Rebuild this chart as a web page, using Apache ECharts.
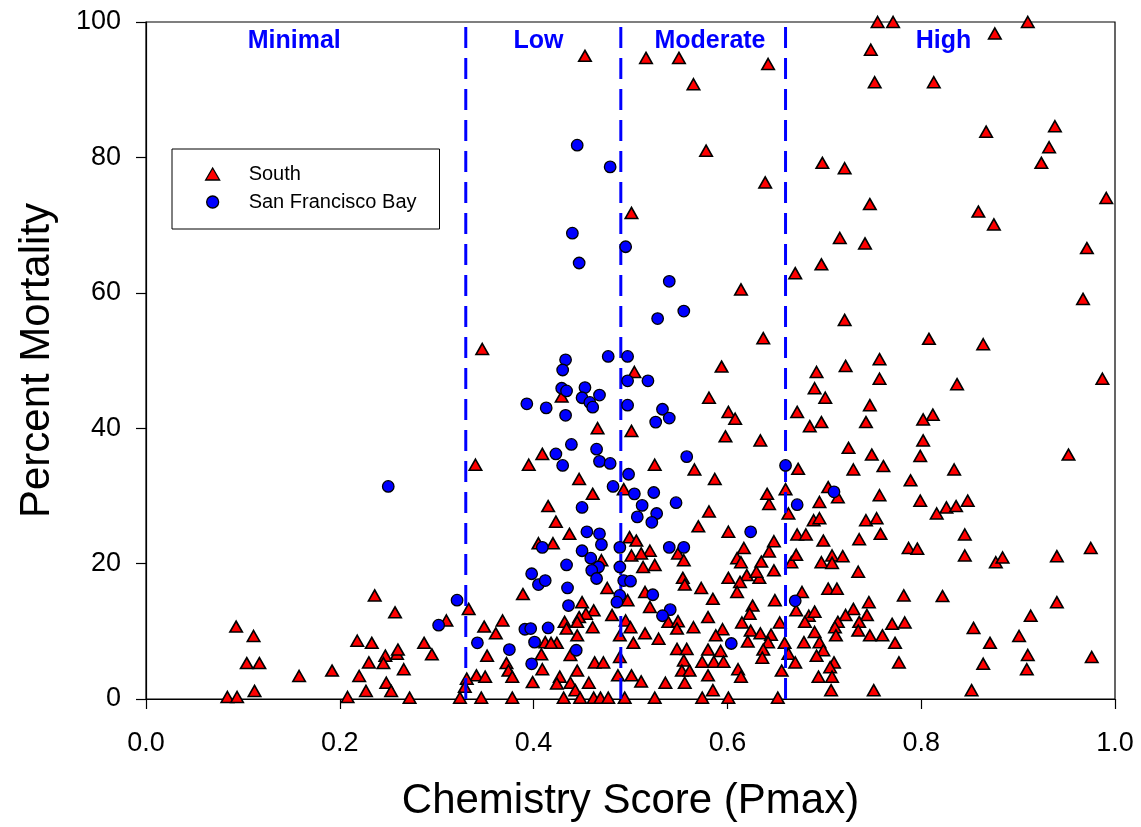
<!DOCTYPE html>
<html><head><meta charset="utf-8">
<script src="https://cdn.jsdelivr.net/npm/echarts@6/dist/echarts.min.js"></script>
<style>html,body{margin:0;padding:0;background:#fff}#c{width:1141px;height:827px}</style>
</head><body><div id="c"></div>
<script>
const seriesNames = ['South', 'San Francisco Bay'];
const xTicks = [0.0, 0.2, 0.4, 0.6, 0.8, 1.0];
const yTicks = [0, 20, 40, 60, 80, 100];
const thresholds = [0.33, 0.49, 0.66];
const zoneLabels = ['Minimal', 'Low', 'Moderate', 'High'];
const zoneLabelX = [0.153, 0.405, 0.582, 0.823];
const zoneLabelY = 97.2;

// South: [Chemistry Score, Percent Mortality]
const southPoints = [
 [0.236,15.3],[0.257,12.8],[0.093,10.7],[0.111,9.3],[0.218,8.6],[0.233,8.3],[0.247,6.4],[0.259,6.7],
 [0.104,5.3],[0.117,5.3],[0.230,5.4],[0.245,5.3],[0.192,4.2],[0.158,3.4],[0.220,3.4],[0.112,1.2],
 [0.227,1.2],[0.248,2.4],[0.253,1.2],[0.084,0.3],[0.094,0.3],[0.208,0.3],
 [0.415,28.5],[0.423,26.2],[0.405,23.0],[0.420,23.0],[0.389,15.5],[0.333,13.3],[0.310,11.6],[0.349,10.7],
 [0.368,11.6],[0.361,9.7],[0.287,8.3],[0.295,6.6],[0.260,7.3],[0.266,4.4],[0.352,6.4],[0.372,5.3],
 [0.374,4.2],[0.378,3.3],[0.341,3.5],[0.350,3.3],[0.331,3.0],[0.329,1.8],[0.272,0.2],[0.324,0.2],
 [0.346,0.2],[0.378,0.2],[0.408,6.6],[0.409,4.4],[0.399,2.5],[0.424,8.3],[0.412,8.4],[0.418,8.3],
 [0.437,24.4],[0.470,20.5],[0.499,23.9],[0.506,23.4],[0.501,21.2],[0.520,21.9],[0.511,21.5],[0.513,19.5],
 [0.525,19.8],[0.549,21.5],[0.555,20.5],[0.581,27.7],[0.570,25.5],[0.601,24.7],[0.554,17.9],[0.556,16.9],
 [0.573,16.4],[0.585,14.8],[0.601,17.9],[0.476,16.4],[0.497,14.6],[0.515,15.8],[0.520,13.6],[0.450,14.3],
 [0.462,13.1],[0.481,12.4],[0.454,12.6],[0.447,12.1],[0.432,11.4],[0.445,11.4],[0.434,10.4],[0.445,9.4],
 [0.461,10.6],[0.438,6.5],[0.495,11.6],[0.500,10.6],[0.489,9.4],[0.503,8.3],[0.515,9.7],[0.529,8.9],
 [0.539,11.4],[0.549,11.5],[0.548,10.4],[0.565,10.6],[0.580,12.1],[0.595,10.3],[0.588,9.4],[0.548,7.4],
 [0.558,7.4],[0.580,7.3],[0.593,7.1],[0.555,5.7],[0.574,5.5],[0.586,5.5],[0.596,5.5],[0.553,4.2],
 [0.561,4.2],[0.580,3.5],[0.463,5.4],[0.472,5.4],[0.445,4.2],[0.489,6.2],[0.487,3.5],[0.501,3.5],
 [0.511,2.6],[0.427,3.3],[0.424,2.3],[0.438,2.4],[0.457,2.4],[0.443,1.3],[0.536,2.4],[0.556,2.4],
 [0.585,1.3],[0.431,0.2],[0.448,0.2],[0.462,0.2],[0.469,0.2],[0.477,0.2],[0.494,0.2],[0.525,0.2],
 [0.574,0.2],[0.601,0.2],
 [0.643,28.8],[0.663,27.4],[0.695,29.1],[0.689,26.4],[0.695,26.7],[0.743,26.4],[0.754,26.7],[0.758,24.4],
 [0.736,23.6],[0.787,22.3],[0.796,22.2],[0.672,24.3],[0.681,24.3],[0.699,23.4],[0.648,23.3],[0.617,22.3],
 [0.643,21.8],[0.610,20.8],[0.614,20.2],[0.635,20.3],[0.666,20.2],[0.671,21.3],[0.697,20.2],[0.708,21.2],
 [0.708,20.1],[0.719,21.1],[0.620,18.3],[0.633,17.9],[0.648,19.0],[0.630,18.8],[0.613,17.3],[0.610,15.8],
 [0.735,18.8],[0.677,15.8],[0.704,16.3],[0.713,16.3],[0.782,15.3],[0.649,14.6],[0.626,13.8],[0.623,12.6],
 [0.615,11.3],[0.624,10.1],[0.654,11.3],[0.671,13.1],[0.684,12.3],[0.690,12.9],[0.680,11.4],[0.730,13.3],
 [0.746,14.3],[0.744,12.4],[0.722,12.4],[0.714,11.4],[0.711,10.6],[0.736,11.4],[0.735,10.1],[0.690,9.9],
 [0.712,9.4],[0.634,9.7],[0.645,9.5],[0.621,8.5],[0.642,8.4],[0.770,11.1],[0.783,11.3],[0.747,9.4],
 [0.760,9.4],[0.773,8.3],[0.659,8.3],[0.679,8.4],[0.695,8.4],[0.699,7.2],[0.637,7.3],[0.636,6.1],
 [0.692,6.4],[0.663,6.7],[0.670,5.4],[0.710,5.4],[0.706,4.7],[0.777,5.4],[0.611,4.4],[0.614,3.3],
 [0.656,4.2],[0.694,3.3],[0.708,3.3],[0.707,1.3],[0.751,1.3],[0.652,0.2],
 [0.799,29.3],[0.826,28.3],[0.836,28.5],[0.848,29.3],[0.816,27.4],[0.845,24.3],[0.845,21.2],[0.877,20.2],
 [0.884,20.9],[0.940,21.1],[0.975,22.3],[0.822,15.2],[0.940,14.3],[0.913,12.3],[0.854,10.5],[0.871,8.3],
 [0.901,9.3],[0.910,6.5],[0.909,4.4],[0.976,6.2],[0.864,5.2],[0.852,1.3],
 [0.347,51.7],[0.409,36.2],[0.395,34.6],[0.340,34.6],[0.504,48.3],[0.429,44.7],[0.466,40.0],[0.501,39.6],
 [0.594,49.1],[0.581,44.5],[0.601,42.4],[0.598,38.8],[0.525,34.6],[0.566,33.9],[0.587,32.5],[0.447,32.5],
 [0.461,30.3],[0.493,31.0],
 [0.721,56.0],[0.637,53.3],[0.692,48.3],[0.722,49.2],[0.757,50.2],[0.757,47.3],[0.690,45.9],[0.701,44.5],
 [0.747,43.4],[0.608,41.4],[0.672,42.4],[0.685,40.3],[0.697,40.9],[0.743,40.9],[0.634,38.2],[0.725,37.1],
 [0.749,36.1],[0.761,34.4],[0.673,34.0],[0.730,33.9],[0.789,32.3],[0.660,31.0],[0.641,30.3],[0.704,31.3],
 [0.714,29.8],[0.757,30.1],
 [0.967,59.1],[0.808,53.2],[0.864,52.4],[0.987,47.3],[0.837,46.5],[0.812,42.0],[0.802,41.3],[0.802,38.2],
 [0.799,35.9],[0.952,36.1],[0.834,33.9],
 [0.453,95.0],[0.516,94.7],[0.550,94.7],[0.565,90.8],[0.578,81.0],[0.501,71.8],
 [0.755,100],[0.771,100],[0.910,100],[0.876,98.3],[0.748,95.9],[0.642,93.8],[0.752,91.1],[0.813,91.1],
 [0.867,83.8],[0.938,84.6],[0.932,81.5],[0.924,79.2],[0.698,79.2],[0.721,78.4],[0.639,76.3],[0.747,73.1],
 [0.991,74.0],[0.859,72.0],[0.875,70.1],[0.971,66.6],[0.716,68.1],[0.742,67.3],[0.697,64.2],[0.670,62.9],
 [0.614,60.5]
];

// San Francisco Bay: [Chemistry Score, Percent Mortality]
const sfBayPoints = [
 [0.409,22.4],[0.398,18.5],[0.405,16.9],[0.412,17.5],[0.321,14.6],[0.302,10.9],[0.342,8.3],[0.375,7.3],
 [0.391,10.3],[0.397,10.4],[0.415,10.5],[0.401,8.4],[0.398,5.2],[0.450,28.3],[0.512,28.6],[0.507,26.9],
 [0.527,27.4],[0.522,26.1],[0.547,29.0],[0.455,24.7],[0.468,24.4],[0.470,22.8],[0.450,21.9],[0.459,20.8],
 [0.467,19.5],[0.460,19.0],[0.465,17.8],[0.434,19.8],[0.489,22.4],[0.489,19.5],[0.493,17.5],[0.500,17.4],
 [0.489,15.3],[0.486,14.3],[0.435,16.4],[0.436,13.8],[0.523,15.4],[0.541,13.2],[0.533,12.3],[0.540,22.4],
 [0.555,22.4],[0.444,7.2],[0.604,8.2],[0.672,28.7],[0.624,24.7],[0.670,14.5],[0.393,43.6],[0.413,43.0],
 [0.250,31.4],[0.528,56.2],[0.555,57.3],[0.477,50.6],[0.497,50.6],[0.433,50.1],[0.430,48.6],[0.429,45.9],
 [0.434,45.5],[0.453,46.0],[0.450,44.5],[0.458,43.8],[0.468,44.9],[0.461,43.1],[0.433,41.9],[0.497,47.0],
 [0.518,47.0],[0.497,43.4],[0.533,42.8],[0.526,40.9],[0.540,41.5],[0.439,37.6],[0.423,36.2],[0.430,34.5],
 [0.465,36.9],[0.468,35.1],[0.479,34.8],[0.498,33.2],[0.482,31.4],[0.504,30.3],[0.524,30.5],[0.558,35.8],
 [0.660,34.5],[0.710,30.6],[0.445,81.8],[0.479,78.6],[0.440,68.8],[0.495,66.8],[0.447,64.4],[0.540,61.7]
];

const FONT = "'Liberation Sans', Arial, sans-serif";
const yMin = yTicks[0], yMax = yTicks[yTicks.length - 1];
const xMin = xTicks[0], xMax = xTicks[xTicks.length - 1];

const chart = echarts.init(document.getElementById('c'));

const thresholdSeries = thresholds.map(t => ({
  type: 'line',
  name: 'threshold-' + t,
  data: [[t, yMax], [t, yMin]],
  symbol: 'none',
  silent: true,
  lineStyle: { color: '#0000FF', width: 3, type: [21, 10], dashOffset: 26 },
  z: 3
}));

const option = {
  animation: false,
  backgroundColor: '#ffffff',
  textStyle: { fontFamily: FONT },
  grid: { left: 146, right: 26, top: 22, bottom: 127, show: true, borderColor: '#000', borderWidth: 1.2, containLabel: false },
  legend: {
    orient: 'vertical',
    left: 172, top: 149,
    padding: [15, 23, 17, 33],
    itemGap: 8,
    itemWidth: 14, itemHeight: 12,
    borderColor: '#000', borderWidth: 1,
    backgroundColor: '#fff',
    textStyle: { fontSize: 20, color: '#000', fontFamily: FONT, padding: [0, 0, 0, 24] },
    data: [
      { name: seriesNames[0], icon: 'triangle', itemStyle: { color: '#FF0000', borderColor: '#000', borderWidth: 1.3 } },
      { name: seriesNames[1], icon: 'circle', itemStyle: { color: '#0000FF', borderColor: '#000', borderWidth: 1.3 } }
    ]
  },
  xAxis: {
    type: 'value', min: xMin, max: xMax, interval: 0.2,
    name: 'Chemistry Score (Pmax)', nameLocation: 'middle', nameGap: 81,
    nameTextStyle: { fontSize: 42, color: '#000', fontFamily: FONT },
    axisLine: { show: true, lineStyle: { color: '#000', width: 1.2 } },
    axisTick: { show: true, length: 10, lineStyle: { color: '#000', width: 1.2 } },
    axisLabel: { fontSize: 27, color: '#000', margin: 31, fontFamily: FONT, formatter: v => v.toFixed(1) },
    splitLine: { show: false }
  },
  yAxis: {
    type: 'value', min: yMin, max: yMax, interval: 20,
    name: 'Percent Mortality', nameLocation: 'middle', nameGap: 88,
    nameTextStyle: { fontSize: 42, color: '#000', fontFamily: FONT },
    axisLine: { show: true, lineStyle: { color: '#000', width: 1.2 } },
    axisTick: { show: true, length: 10, lineStyle: { color: '#000', width: 1.2 } },
    axisLabel: { fontSize: 27, color: '#000', margin: 25, fontFamily: FONT },
    splitLine: { show: false }
  },
  series: [
    {
      name: seriesNames[0], type: 'scatter', data: southPoints,
      symbol: 'triangle', symbolSize: [12.5, 11],
      itemStyle: { color: '#FF0000', borderColor: '#000', borderWidth: 1.6, opacity: 1 },
      z: 2
    },
    ...thresholdSeries,
    {
      name: seriesNames[1], type: 'scatter', data: sfBayPoints,
      symbol: 'circle', symbolSize: 11.5,
      itemStyle: { color: '#0000FF', borderColor: '#000', borderWidth: 1.3, opacity: 1 },
      z: 4
    }
  ]
};
chart.setOption(option);

// zone labels placed through the chart's own coordinate conversion
const zoneGraphics = zoneLabels.map((n, i) => {
  const p = chart.convertToPixel({ gridIndex: 0 }, [zoneLabelX[i], zoneLabelY]);
  return {
    type: 'text', x: p[0], y: p[1], z: 100, silent: true,
    style: { text: n, fill: '#0000FF', font: "bold 25px 'Liberation Sans', Arial, sans-serif", textAlign: 'center', textVerticalAlign: 'middle' }
  };
});
chart.setOption({ graphic: zoneGraphics });
</script>
</body></html>
